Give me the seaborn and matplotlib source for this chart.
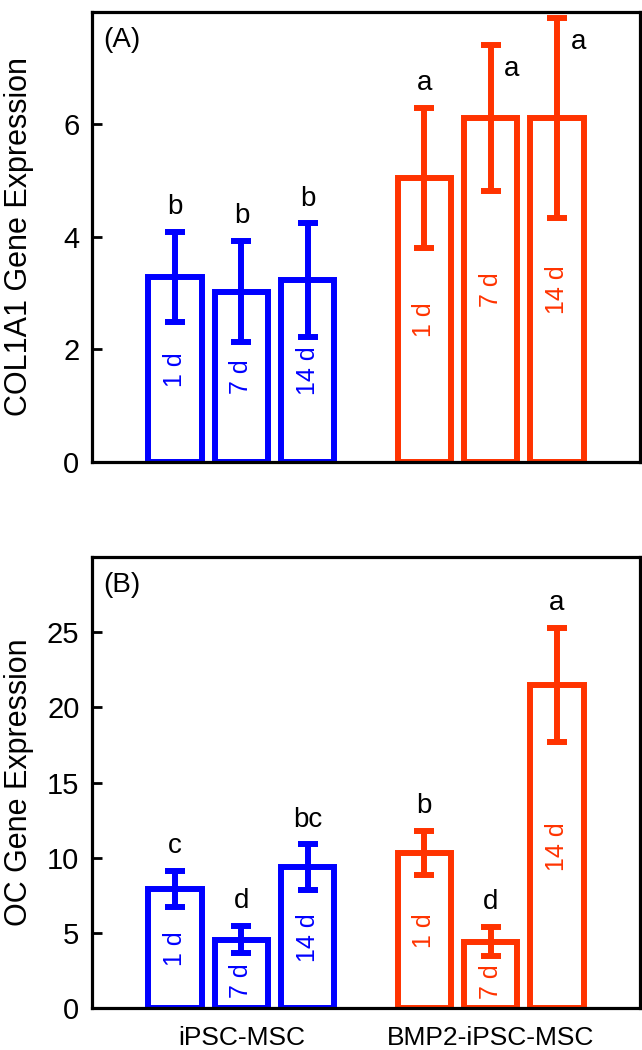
import numpy as np
import pandas as pd
import matplotlib
matplotlib.use('Agg')
import matplotlib.pyplot as plt
import seaborn as sns

# --- dados ---
cells = ['iPSC-MSC', 'BMP2-iPSC-MSC']
days = ['1 d', '7 d', '14 d']
cell_colors = ['#0000FF', '#FF3300']

col1a1_mean = [3.29, 3.03, 3.23, 5.05, 6.12, 6.12]
col1a1_err = [0.80, 0.90, 1.01, 1.24, 1.30, 1.78]
col1a1_letters = ['b', 'b', 'b', 'a', 'a', 'a']

oc_mean = [7.91, 4.55, 9.38, 10.32, 4.41, 21.5]
oc_err = [1.19, 0.89, 1.50, 1.44, 0.97, 3.80]
oc_letters = ['c', 'd', 'bc', 'b', 'd', 'a']

# --- estilo ---
sns.set_style('ticks')
plt.rcParams['font.family'] = ['Liberation Sans', 'DejaVu Sans']
plt.rcParams['text.color'] = 'black'
plt.rcParams['axes.labelcolor'] = 'black'
plt.rcParams['xtick.color'] = 'black'
plt.rcParams['ytick.color'] = 'black'

LW = 4.3


def painel(ax, means, errs, letters, ylim, yticks, ylabel, tag, show_x):
    df = pd.DataFrame({
        'cell': np.repeat(cells, len(days)),
        'day': days * len(cells),
        'value': means,
    })
    sns.barplot(data=df, x='cell', y='value', hue='day', order=cells,
                hue_order=days, fill=False, gap=0.2, linewidth=LW,
                errorbar=None, legend=False, ax=ax)

    # ordenar as barras pela posicao x (mesma ordem do df)
    bars = sorted(ax.patches, key=lambda p: p.get_x())
    ymax = ylim[1]
    pad = 0.055 * ymax
    meio_texto = 0.048 * ymax  # metade do comprimento do rotulo "7 d"
    for i, (bar, row) in enumerate(zip(bars, df.itertuples())):
        color = cell_colors[cells.index(row.cell)]
        bar.set_edgecolor(color)
        bar.set_facecolor('none')
        bar.set_joinstyle('miter')
        xc = bar.get_x() + bar.get_width() / 2
        ax.errorbar(xc, row.value, yerr=errs[i], fmt='none', ecolor=color,
                    elinewidth=LW, capsize=7.5, capthick=LW, zorder=3)
        # rotulo do dia no meio da barra, abaixo da barra de erro se colidir
        y_txt = row.value / 2
        if y_txt + meio_texto > row.value - errs[i]:
            y_txt = (row.value - errs[i]) / 2
        ax.text(xc, y_txt, row.day, rotation=90, ha='center',
                va='center', color=color, fontsize=18)
        top = row.value + errs[i]
        if top + pad > 0.95 * ymax:
            # letra ao lado da barra de erro quando nao cabe em cima
            ax.text(xc + 0.085, top - pad, letters[i], ha='center',
                    va='center', fontsize=20)
        else:
            ax.text(xc, top + pad, letters[i], ha='center', va='center',
                    fontsize=20)

    ax.set_xlim(-0.6, 1.6)
    ax.set_ylim(*ylim)
    ax.set_yticks(yticks)
    ax.set_ylabel(ylabel, fontsize=22)
    ax.yaxis.set_label_coords(-0.105, 0.5)
    ax.set_xlabel('')
    ax.text(0.02, 0.938, tag, transform=ax.transAxes, fontsize=20,
            ha='left', va='center')
    ax.tick_params(axis='y', direction='in', length=7, width=2,
                   labelsize=21, pad=9)
    ax.tick_params(axis='x', length=0, labelsize=19, pad=13,
                   labelbottom=show_x)
    for s in ax.spines.values():
        s.set_visible(True)
        s.set_linewidth(2.3)
        s.set_color('black')


fig = plt.figure(figsize=(6.42, 10.5), dpi=100)
ax1 = fig.add_axes([0.1433, 0.56, 0.8536, 0.4286])
ax2 = fig.add_axes([0.1433, 0.04, 0.8536, 0.4295])

painel(ax1, col1a1_mean, col1a1_err, col1a1_letters, (0, 8), [0, 2, 4, 6],
       'COL1A1 Gene Expression', '(A)', False)
painel(ax2, oc_mean, oc_err, oc_letters, (0, 30), [0, 5, 10, 15, 20, 25],
       'OC Gene Expression', '(B)', True)

fig.savefig('out.png', dpi=100)
plt.close()
